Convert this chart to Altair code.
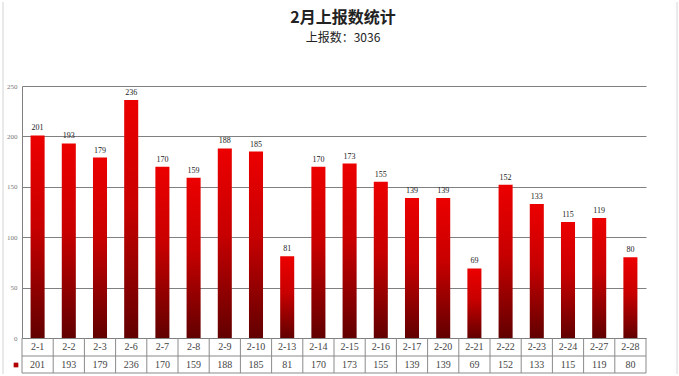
import altair as alt
import pandas as pd

categories = ["2-1", "2-2", "2-3", "2-6", "2-7", "2-8", "2-9", "2-10", "2-13", "2-14",
              "2-15", "2-16", "2-17", "2-20", "2-21", "2-22", "2-23", "2-24", "2-27", "2-28"]
values = [201, 193, 179, 236, 170, 159, 188, 185, 81, 170,
          173, 155, 139, 139, 69, 152, 133, 115, 119, 80]
y_ticks = [0, 50, 100, 150, 200, 250]
title_text = "2月上报数统计"
subtitle_text = "上报数：" + str(sum(values))

df = pd.DataFrame({"cat": categories, "val": values})
one = pd.DataFrame({"a": [0]})

W, H = 624, 252
FONT = "Liberation Sans Narrow"
xscale = alt.Scale(domain=categories, paddingInner=0, paddingOuter=0)
yscale = alt.Scale(domain=[0, 250], nice=False)
xenc = alt.X("cat:N", scale=xscale, axis=None, sort=categories)

grad = alt.Gradient(
    gradient="linear",
    stops=[alt.GradientStop(color="#ec0000", offset=0),
           alt.GradientStop(color="#c80000", offset=0.45),
           alt.GradientStop(color="#620000", offset=1)],
    x1=0, x2=0, y1=0, y2=1,
)

base = alt.Chart(df)

bars = base.mark_bar(color=grad, width=alt.RelativeBandSize(0.45)).encode(
    x=xenc,
    y=alt.Y("val:Q", scale=yscale,
            axis=alt.Axis(values=y_ticks, grid=True, gridColor="#808080", gridWidth=1,
                          ticks=False, labelFontSize=7, labelColor="#777", labelFont=FONT,
                          domainColor="#808080", labelPadding=5, title=None)),
)

labels = base.mark_text(dy=-7, fontSize=8, color="#222", font=FONT).encode(
    x=xenc, y=alt.Y("val:Q", scale=yscale), text="val:Q"
)

cat_text = base.mark_text(fontSize=10, color="#444", font=FONT).encode(
    x=xenc, y=alt.value(H + 9), text="cat:N"
)
val_text = base.mark_text(fontSize=10, color="#444", font=FONT).encode(
    x=xenc, y=alt.value(H + 27), text="val:Q"
)

vlines = base.mark_rule(color="#8a8a8a").encode(
    x=alt.X("cat:N", scale=xscale, axis=None, sort=categories, bandPosition=0),
    y=alt.value(H), y2=alt.value(H + 35),
)
right_edge = alt.Chart(one).mark_rule(color="#8a8a8a").encode(
    x=alt.value(W), y=alt.value(H), y2=alt.value(H + 35)
)
hline1 = alt.Chart(one).mark_rule(color="#8a8a8a").encode(
    x=alt.value(0), x2=alt.value(W), y=alt.value(H + 18)
)
hline2 = alt.Chart(one).mark_rule(color="#8a8a8a").encode(
    x=alt.value(0), x2=alt.value(W), y=alt.value(H + 35)
)
marker = alt.Chart(one).mark_square(color="#b00000", opacity=1, size=22).encode(
    x=alt.value(-6), y=alt.value(H + 27)
)
frame_l = alt.Chart(one).mark_rule(color="#d4d4d4").encode(
    x=alt.value(-19), y=alt.value(-84), y2=alt.value(H + 36)
)
frame_r = alt.Chart(one).mark_rule(color="#d4d4d4").encode(
    x=alt.value(655), y=alt.value(-84), y2=alt.value(H + 36)
)

title = alt.Chart(one).mark_text(fontSize=16, fontWeight="bold", color="#222",
                                 font="Noto Sans CJK SC").encode(
    x=alt.value(321), y=alt.value(-68), text=alt.value(title_text)
)
subtitle = alt.Chart(one).mark_text(fontSize=12, color="#222",
                                    font="Noto Sans CJK SC").encode(
    x=alt.value(321), y=alt.value(-48), text=alt.value(subtitle_text)
)

chart = alt.layer(
    bars, labels, vlines, right_edge, hline1, hline2, cat_text, val_text,
    marker, frame_l, frame_r, title, subtitle
).properties(
    width=W, height=H,
    autosize=alt.AutoSizeParams(type="none"),
    padding={"left": 22, "top": 86, "right": 33, "bottom": 38},
    background="white",
).configure_view(stroke=None)

chart.save("out.html", embed_options={"renderer": "svg", "actions": False})
